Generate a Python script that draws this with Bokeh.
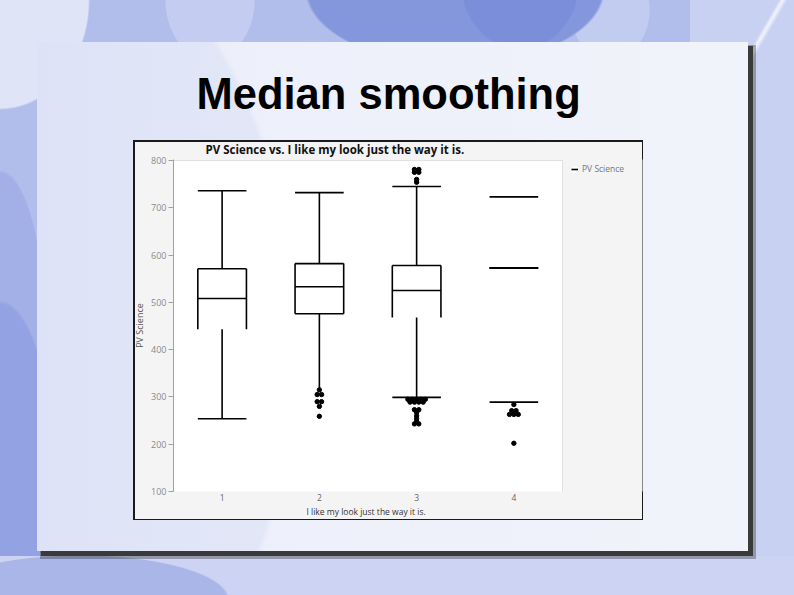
from collections import Counter
from bokeh.plotting import figure
from bokeh.models import (Range1d, ColumnDataSource, BoxAnnotation, Legend, LegendItem,
                          FixedTicker, Title)
from bokeh.embed import file_html
from bokeh.resources import INLINE

# ---------------- data ----------------
groups = ["1", "2", "3", "4"]
upper_whisker = [736, 732, 745, 723]
q3 = [571, 582, 578, 573]
median = [508, 533, 525, 573]
q1 = [443, 476, 468, 573]
lower_whisker = [254, 316, 299, 289]

# which parts of each box are visible in the source chart
box_bottom_drawn = [False, True, False, True]
lower_cap_drawn = [True, False, True, True]
stems_drawn = [True, True, True, False]

outlier_groups = (["2"] * 7 + ["3"] * 6 + ["3"] * 17 + ["4"] * 7)
outlier_values = ([315, 305, 305, 290, 290, 280, 259]
                  + [781, 781, 775, 775, 760, 754]
                  + [295, 295, 295, 295, 295, 289, 289, 289, 289, 273, 273, 267, 260, 254, 248, 243, 243]
                  + [284, 271, 271, 263, 263, 263, 202])

y_ticks = [100, 200, 300, 400, 500, 600, 700, 800]

chart_title = "PV Science vs. I like my look just the way it is."
x_label = "I like my look just the way it is."
y_label = "PV Science"
slide_title = "Median smoothing"

# ---------------- page decoration (CSS background behind the canvas) ----------------
def rect(x, y, w, h, c):
    return f"linear-gradient({c},{c}) {x}px {y}px / {w}px {h}px no-repeat"


def ell(cx, cy, rx, ry, c):
    return f"radial-gradient({rx}px {ry}px at {cx}px {cy}px, {c} 98%, rgba(0,0,0,0) 100%)"


layers = [
    rect(134.5, 141.5, 507, 377, "#f4f4f4"),           # chart panel
    rect(133, 140, 510, 380, "#1a1a1a"),               # chart panel border
    "radial-gradient(260px 420px at 0px 300px, rgba(205,213,243,0.35) 98%, rgba(0,0,0,0) 100%) 37px 42px / 711px 509px no-repeat",
    "linear-gradient(90deg, #e6e9f8, #edf0fa 30%, #f1f3fb) 37px 42px / 711px 509px no-repeat",  # slide
    rect(41, 46, 712, 510, "#3a3a3a"),                 # slide shadow
    rect(40, 45, 716, 514, "rgba(40,40,40,0.35)"),
    "linear-gradient(120deg, rgba(0,0,0,0) 44%, rgba(255,255,255,0.75) 48%, rgba(0,0,0,0) 53%) 735px 0px / 59px 70px no-repeat",
    ell(520, -20, 60, 70, "#7b8ed9"),
    ell(455, -10, 150, 75, "#8597dc"),
    ell(610, 10, 40, 50, "#c2cbf0"),
    ell(210, 0, 45, 60, "#c4cdf1"),
    ell(0, 0, 90, 110, "#dfe4f7"),
    ell(80, 600, 150, 45, "#aab6e8"),
    rect(0, 556, 794, 39, "#cdd4f3"),
    ell(0, 520, 60, 220, "#93a2e2"),
    ell(0, 330, 45, 160, "#a3b0e7"),
    rect(690, 0, 104, 595, "#c9d1f2"),
]
background_css = ", ".join(layers) + ", #b1bdeb"

# ---------------- figure ----------------
W, H = 794, 595
frame_l, frame_r, frame_t, frame_b = 173, 642, 159, 491  # page pixels
px_per_unit = (562 - 173) / 4.0
val_per_px = 700 / (491 - 160)

p = figure(width=W, height=H, output_backend="svg", toolbar_location=None,
           x_range=Range1d(0.5, 4.5 + (frame_r - 562) / px_per_unit),
           y_range=Range1d(100, 800 + (160 - frame_t) * val_per_px),
           min_border_left=frame_l, min_border_right=W - frame_r,
           min_border_top=frame_t, min_border_bottom=H - frame_b,
           background_fill_color="#f4f4f4", border_fill_alpha=0,
           styles={"background": background_css})
p.outline_line_color = None
p.grid.visible = False

# plot area (white) with grey top / right border
p.add_layout(BoxAnnotation(left=0, right=4.5, bottom=0, top=800, fill_color="white",
                           fill_alpha=1.0, line_color="#a8a8a8", line_width=1,
                           level="underlay"))

# ---------------- box plot marks ----------------
pos = [i + 1 for i in range(len(groups))]
hw = 0.25
segs = dict(x0=[], y0=[], x1=[], y1=[])


def add(x0, y0, x1, y1):
    segs["x0"].append(x0); segs["y0"].append(y0)
    segs["x1"].append(x1); segs["y1"].append(y1)


for i, x in enumerate(pos):
    add(x - hw, q3[i], x + hw, q3[i])
    add(x - hw, median[i], x + hw, median[i])
    if box_bottom_drawn[i]:
        add(x - hw, q1[i], x + hw, q1[i])
    add(x - hw, q1[i], x - hw, q3[i])
    add(x + hw, q1[i], x + hw, q3[i])
    add(x - hw, upper_whisker[i], x + hw, upper_whisker[i])
    if lower_cap_drawn[i]:
        add(x - hw, lower_whisker[i], x + hw, lower_whisker[i])
    if stems_drawn[i]:
        add(x, q3[i], x, upper_whisker[i])
        add(x, q1[i], x, lower_whisker[i])

box_src = ColumnDataSource(dict(x=pos, top=q3, bottom=q1))
box_r = p.vbar(x="x", top="top", bottom="bottom", width=2 * hw, source=box_src,
               fill_color="white", line_color=None)
seg_r = p.segment(x0="x0", y0="y0", x1="x1", y1="y1", source=ColumnDataSource(segs),
                  line_color="black", line_width=1.6)

# outliers, side by side when equal
ox, oy = [], []
spacing = 0.045
for g in groups:
    vals = [v for gg, v in zip(outlier_groups, outlier_values) if gg == g]
    cnt = Counter(vals)
    seen = Counter()
    xc = groups.index(g) + 1
    for v in vals:
        n = cnt[v]
        k = seen[v]
        seen[v] += 1
        ox.append(xc + (k - (n - 1) / 2) * spacing)
        oy.append(v)
p.scatter(x=ox, y=oy, size=4.4, color="black")

# ---------------- axes ----------------
yax = p.yaxis[0]
yax.ticker = FixedTicker(ticks=y_ticks)
yax.axis_line_color = "#a0a0a0"
yax.major_tick_line_color = "#a0a0a0"
yax.major_tick_out = 5
yax.major_tick_in = 0
yax.minor_tick_line_color = None
yax.minor_tick_out = 0
yax.major_label_text_color = "#8a8a8a"
yax.major_label_text_font = "Open Sans"
yax.major_label_text_font_size = "9px"
yax.major_label_standoff = 2
yax.axis_label = y_label
yax.axis_label_text_font = "Open Sans"
yax.axis_label_text_font_style = "normal"
yax.axis_label_text_font_size = "9px"
yax.axis_label_text_color = "#555555"
yax.axis_label_standoff = 2

xax = p.xaxis[0]
xax.ticker = FixedTicker(ticks=pos)
xax.major_label_overrides = {x: g for x, g in zip(pos, groups)}
xax.axis_line_color = None
xax.major_tick_line_color = None
xax.major_tick_out = 0
xax.major_tick_in = 0
xax.minor_tick_line_color = None
xax.minor_tick_out = 0
xax.major_label_text_color = "#666666"
xax.major_label_text_font = "Open Sans"
xax.major_label_text_font_size = "8.5px"
xax.major_label_standoff = 2

# x-axis title, under the plot area (not under the legend strip)
p.add_layout(Title(text=x_label, align="left", offset=306 - frame_l,
                   text_font="Open Sans", text_font_style="normal",
                   text_font_size="8.5px", text_color="#333333", standoff=0), "below")

# ---------------- titles ----------------
# outer title: the slide heading
p.title.text = slide_title
p.title.text_font = "Liberation Sans"
p.title.text_font_style = "bold"
p.title.text_font_size = "43.5px"
p.title.text_color = "black"
p.title.align = "left"
p.title.offset = 196 - frame_l
p.title.standoff = 39

# inner title: the chart's own title
p.add_layout(Title(text=chart_title, align="left", offset=205 - frame_l,
                   text_font="Open Sans", text_font_style="bold",
                   text_font_size="11.5px", text_color="#111111", standoff=5), "above")

# ---------------- legend ----------------
legend = Legend(items=[LegendItem(label=y_label, renderers=[box_r, seg_r])],
                location=(398, 317), border_line_color=None, background_fill_alpha=0,
                margin=0, padding=0, glyph_width=7, glyph_height=8, label_standoff=4,
                label_text_font="Open Sans", label_text_font_size="8.5px",
                label_text_color="#777777")
p.add_layout(legend)

open("out.html", "w").write(file_html(p, INLINE))
